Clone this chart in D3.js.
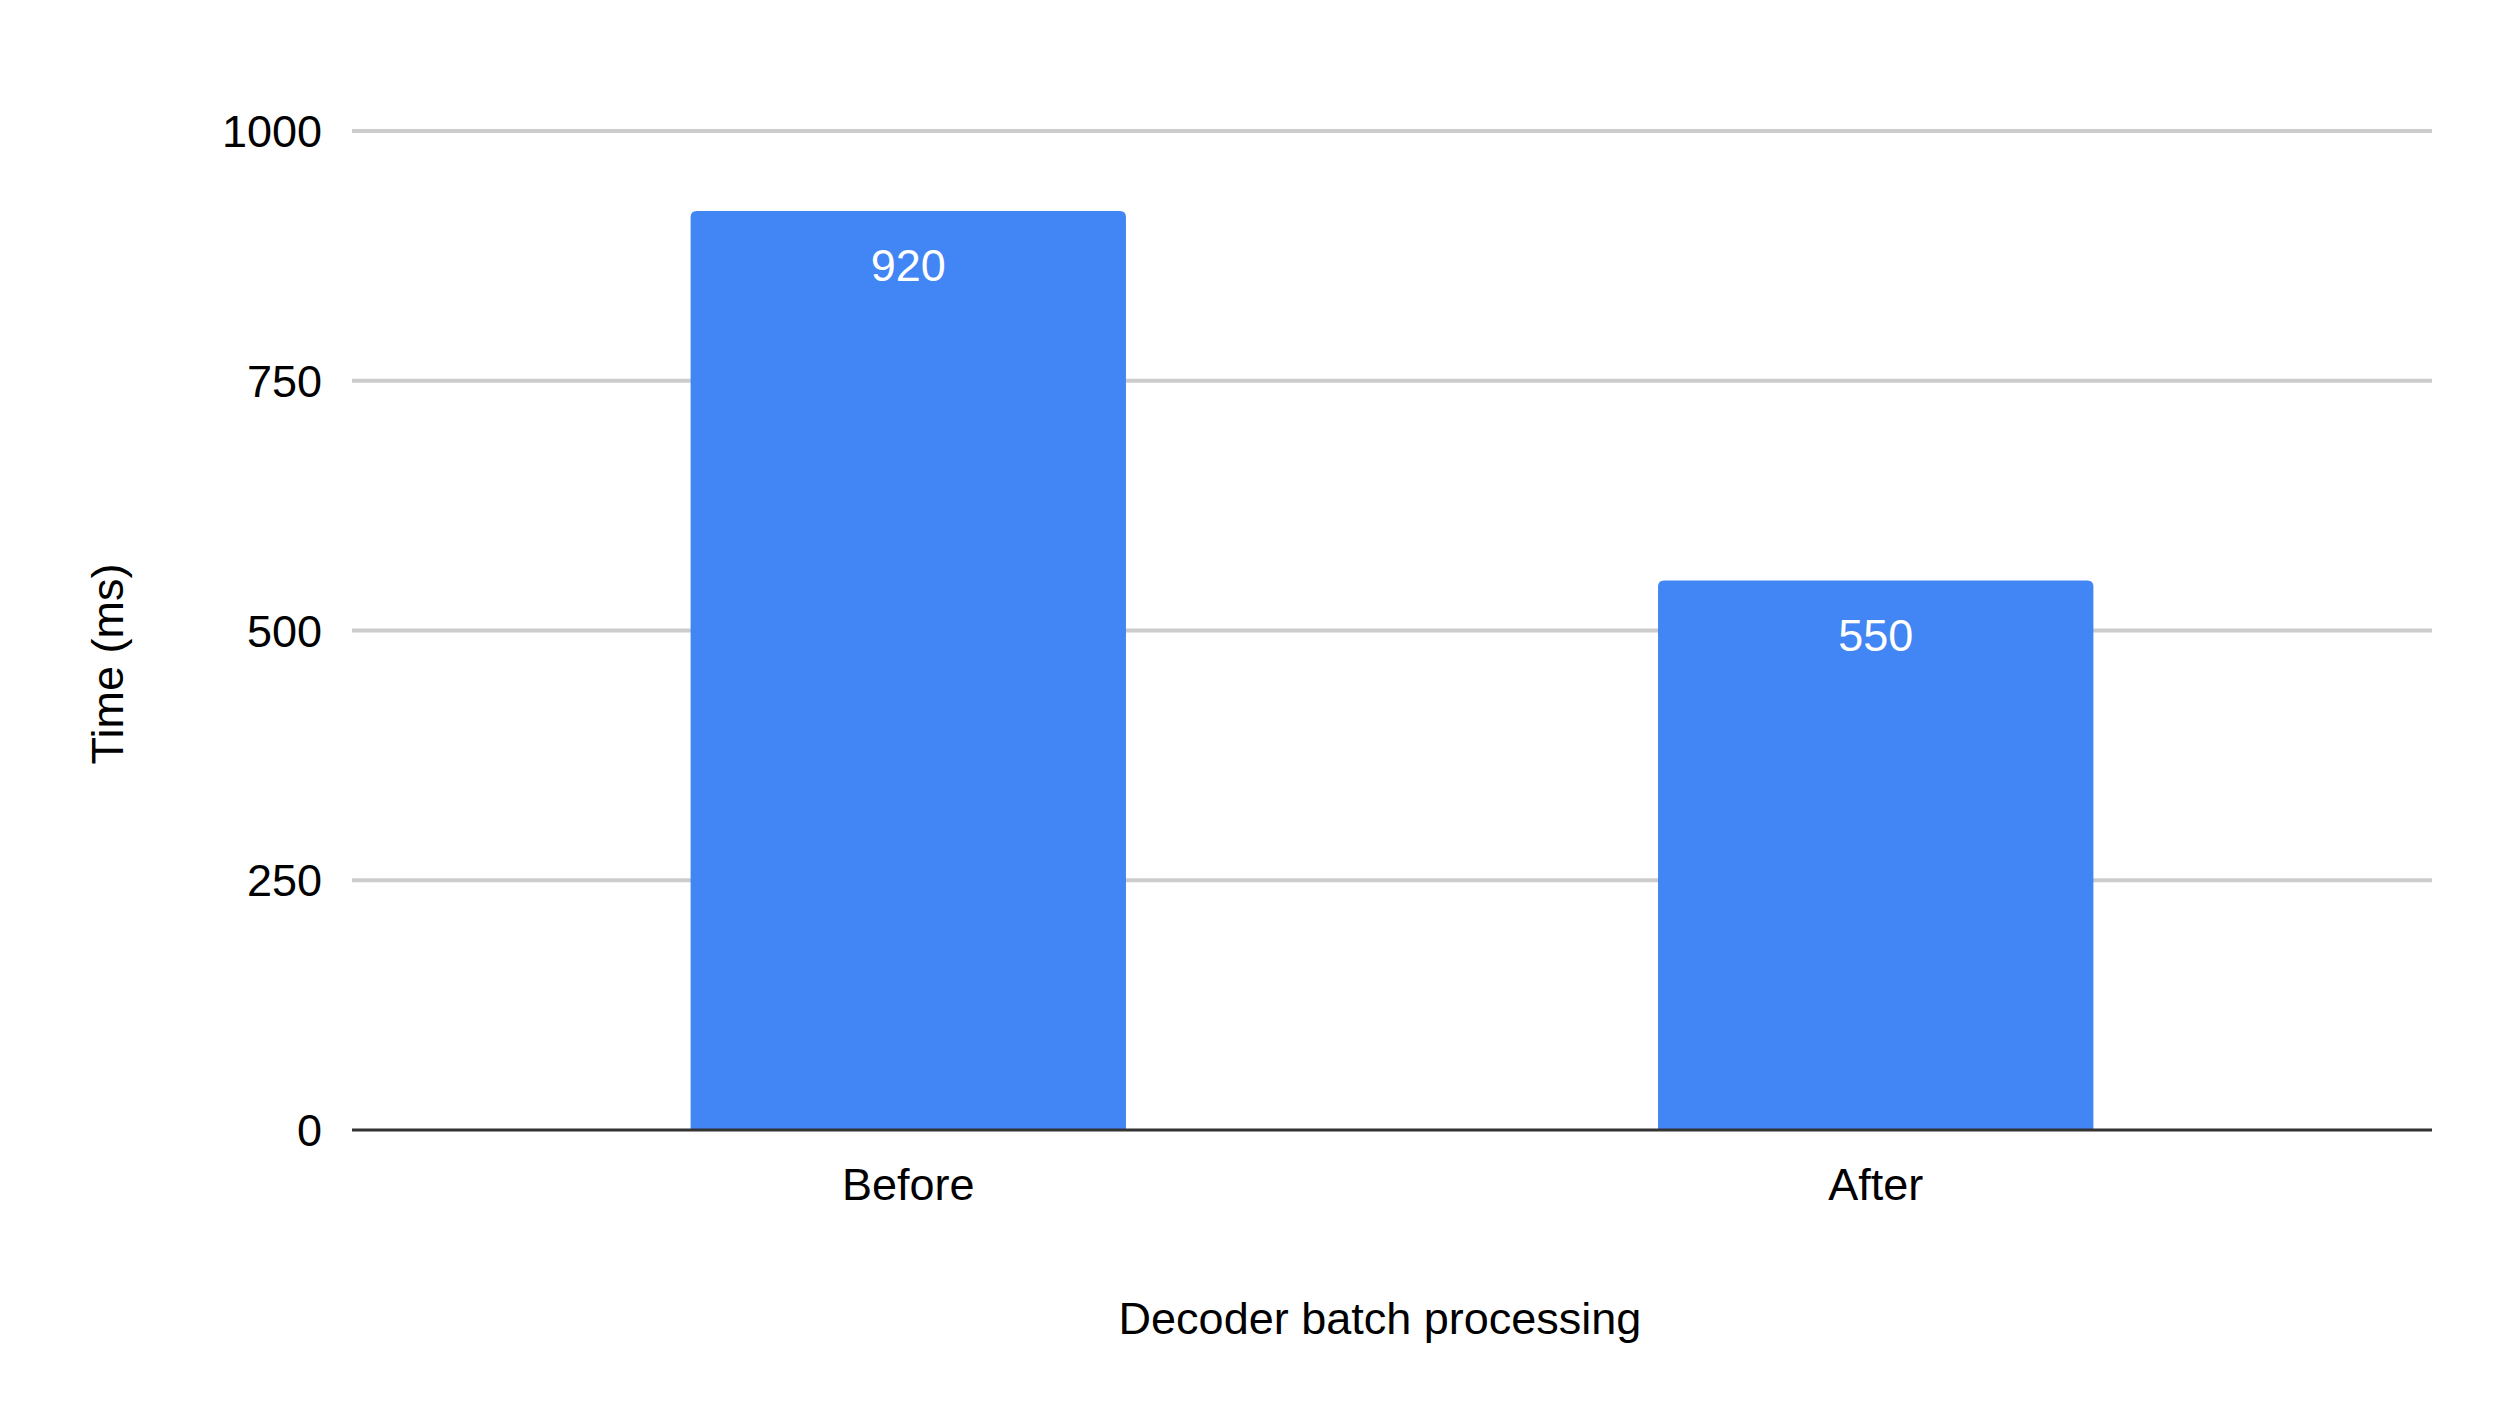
<!DOCTYPE html>
<html>
<head>
<meta charset="utf-8">
<script src="https://cdn.jsdelivr.net/npm/d3@7"></script>
<style>
  body { margin: 0; background: #fff; }
  text { font-family: "Liberation Sans", Arial, sans-serif; }
</style>
</head>
<body>
<svg id="chart" width="2500" height="1421"></svg>
<script>
// chart data
var categories = ['Before', 'After'];
var values = [920, 550];
var yTicks = [0, 250, 500, 750, 1000];

var margin = {top: 131, right: 68, bottom: 291, left: 352};
var svg = d3.select('#chart');
var width = 2500 - margin.left - margin.right;
var height = 1421 - margin.top - margin.bottom;

var g = svg.append('g')
  .attr('transform', 'translate(' + margin.left + ',' + margin.top + ')');

var x = d3.scaleBand()
  .domain(categories)
  .range([0, width])
  .paddingInner(0.55)
  .paddingOuter(0.35);

var y = d3.scaleLinear()
  .domain([0, 1000])
  .range([height, 0]);

// gridlines
g.selectAll('.grid')
  .data(yTicks.filter(d => d > 0))
  .enter().append('line')
    .attr('x1', 0).attr('x2', width)
    .attr('y1', d => y(d)).attr('y2', d => y(d))
    .attr('stroke', '#cccccc')
    .attr('stroke-width', 4);

// y tick labels
g.selectAll('.ytick')
  .data(yTicks)
  .enter().append('text')
    .attr('x', -30)
    .attr('y', d => y(d))
    .attr('dy', '0.36em')
    .attr('text-anchor', 'end')
    .attr('font-size', 45)
    .attr('fill', '#000')
    .text(d => d);

// bars, slightly rounded at the top
g.selectAll('.bar')
  .data(values)
  .enter().append('path')
    .attr('fill', '#4285f4')
    .attr('d', function(d, i) {
      var x0 = x(categories[i]), w = x.bandwidth(), y0 = y(d), r = 6;
      return 'M' + x0 + ',' + height + 'V' + (y0 + r) +
        'Q' + x0 + ',' + y0 + ' ' + (x0 + r) + ',' + y0 +
        'H' + (x0 + w - r) + 'Q' + (x0 + w) + ',' + y0 + ' ' + (x0 + w) + ',' + (y0 + r) +
        'V' + height + 'Z';
    });

// value labels
g.selectAll('.val')
  .data(values)
  .enter().append('text')
    .attr('x', (d, i) => x(categories[i]) + x.bandwidth() / 2)
    .attr('y', d => y(d) + 70)
    .attr('text-anchor', 'middle')
    .attr('font-size', 45)
    .attr('font-family', 'Roboto, sans-serif')
    .attr('fill', '#fff')
    .text(d => d);

// baseline
g.append('line')
  .attr('x1', 0).attr('x2', width)
  .attr('y1', height).attr('y2', height)
  .attr('stroke', '#333')
  .attr('stroke-width', 3);

// x tick labels
g.selectAll('.xtick')
  .data(categories)
  .enter().append('text')
    .attr('x', d => x(d) + x.bandwidth() / 2)
    .attr('y', height + 70)
    .attr('text-anchor', 'middle')
    .attr('font-size', 45)
    .attr('fill', '#000')
    .text(d => d);

// axis titles
svg.append('text')
  .attr('x', 1380).attr('y', 1334)
  .attr('text-anchor', 'middle')
  .attr('font-size', 45)
  .text('Decoder batch processing');

svg.append('text')
  .attr('transform', 'translate(123,664) rotate(-90)')
  .attr('text-anchor', 'middle')
  .attr('font-size', 45)
  .text('Time (ms)');
</script>
</body>
</html>
